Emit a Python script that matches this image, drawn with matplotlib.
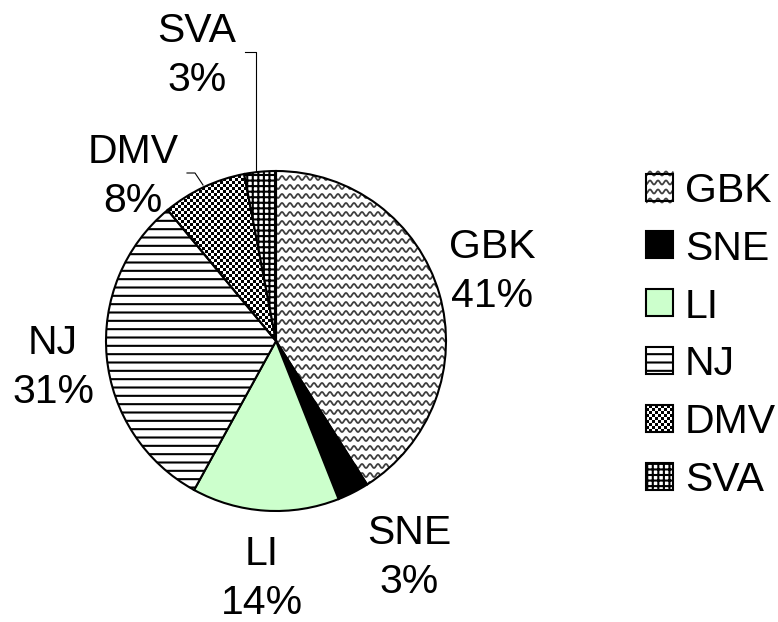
import numpy as np
import matplotlib.pyplot as plt
from matplotlib.collections import LineCollection
from matplotlib.patches import Rectangle

plt.rcParams['font.family'] = ['Liberation Sans', 'DejaVu Sans']
plt.rcParams['hatch.linewidth'] = 1.5

# catch share by region (%)
regions = ['GBK', 'SNE', 'LI', 'NJ', 'DMV', 'SVA']
shares = [41, 3, 14, 31, 8, 3]

# fill style per region: (facecolor, hatch, texture)
styles = {
    'GBK': ('none', None, 'wave'),
    'SNE': ('black', None, None),
    'LI': ('#ccffcc', None, None),
    'NJ': ('white', '--', None),
    'DMV': ('none', None, 'checker'),
    'SVA': ('white', '+++', None),
}

W, H = 778, 622
FS = 29.5
fig = plt.figure(figsize=(W / 100, H / 100), dpi=100)
ax = fig.add_axes([0, 0, 1, 1])


def iy(y):
    # pixel row measured from the top -> axes y
    return H - y


def add_waves(ax, clip, x0, x1, y0, y1, step=9, wavelength=8, amp=2):
    xs = np.arange(x0, x1 + 1, 0.5)
    segs = []
    for yb in np.arange(y0, y1 + step, step):
        segs.append(np.column_stack([xs, yb + amp * np.sin(2 * np.pi * xs / wavelength)]))
    lc = LineCollection(segs, colors='#404040', linewidths=1.3, zorder=0.5)
    lc.set_clip_path(clip)
    ax.add_collection(lc)


def add_checker(ax, clip, x0, x1, y0, y1, cell=3):
    nx = int((x1 - x0) / cell) + 1
    ny = int((y1 - y0) / cell) + 1
    jj, ii = np.meshgrid(np.arange(nx), np.arange(ny))
    board = ((ii + jj) % 2).astype(float)
    im = ax.imshow(board, cmap='gray', vmin=0, vmax=1, interpolation='nearest',
                   extent=(x0, x0 + nx * cell, y0, y0 + ny * cell),
                   aspect='auto', zorder=0.5)
    im.set_clip_path(clip)


def fill_texture(ax, patch, kind, x0, x1, y0, y1):
    if kind == 'wave':
        add_waves(ax, patch, x0, x1, y0, y1)
    elif kind == 'checker':
        add_checker(ax, patch, x0, x1, y0, y1)


# pie
cx, cy, R = 276, iy(341), 170
wedges, _ = ax.pie(shares, startangle=90, counterclock=False,
                   center=(cx, cy), radius=R,
                   wedgeprops=dict(edgecolor='black', linewidth=1.5))
for w, name in zip(wedges, regions):
    fc, hatch, tex = styles[name]
    w.set_facecolor(fc)
    if hatch:
        w.set_hatch(hatch)
    if tex:
        fill_texture(ax, w, tex, cx - R, cx + R, cy - R, cy + R)

# slice labels (name on top, percentage below)
label_pos = [(492, 243), (409, 529), (262, 550), (53, 339), (133, 148), (197, 27)]
for name, v, (x, y) in zip(regions, shares, label_pos):
    ax.text(x, iy(y + 15), name, ha='center', va='baseline', fontsize=FS)
    ax.text(x, iy(y + 64), f'{v}%', ha='center', va='baseline', fontsize=FS)

# leader lines for the small slices
ax.plot([245, 256, 256], [iy(52), iy(52), iy(171)], color='black', lw=0.8)
ax.plot([187, 195, 203], [iy(173), iy(173), iy(185)], color='black', lw=0.8)

# legend drawn by hand so the textured swatches match the slices
sw = 27
for i, name in enumerate(regions):
    yc = 187 + i * 57.8
    fc, hatch, tex = styles[name]
    box = Rectangle((646, iy(yc + sw / 2)), sw, sw, facecolor=fc, hatch=hatch,
                    edgecolor='black', linewidth=1.5, zorder=1)
    ax.add_patch(box)
    if tex:
        fill_texture(ax, box, tex, 646, 646 + sw, iy(yc + sw / 2), iy(yc - sw / 2))
    ax.text(685, iy(yc + 15), name, ha='left', va='baseline', fontsize=FS)

ax.set_xlim(0, W)
ax.set_ylim(0, H)
ax.set_aspect('auto')
ax.axis('off')

fig.savefig('out.png', dpi=100, facecolor='white')
